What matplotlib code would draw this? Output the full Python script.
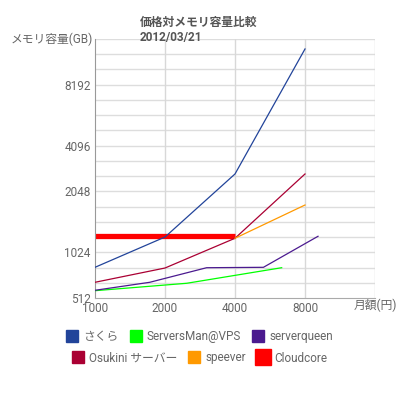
import matplotlib
matplotlib.use('Agg')
import matplotlib.pyplot as plt
from matplotlib.lines import Line2D

plt.rcParams['font.family'] = ['Roboto', 'Noto Sans CJK JP', 'DejaVu Sans']

# price (yen / month) and memory values
sakura_x = [1000, 2000, 4000, 8000]
sakura_y = [763, 1131, 2567, 13035]
serversman_x = [1000, 2480, 6350]
serversman_y = [563, 620, 759]
serverqueen_x = [1000, 1720, 3020, 5300, 9100]
serverqueen_y = [566, 628, 759, 763, 1142]
osukini_x = [1000, 2000, 4000, 8000]
osukini_y = [628, 756, 1113, 2567]
speever_x = [4000, 8000]
speever_y = [1113, 1715]
cloudcore_x = [1000, 4000]
cloudcore_y = [1146, 1146]

names = ['さくら', 'ServersMan@VPS', 'serverqueen', 'Osukini サーバー', 'speever', 'Cloudcore']
colors = ['#22449a', '#00ff00', '#4b1a8f', '#aa0033', '#ff9900', '#ff0000']

xticks = [1000, 2000, 4000, 8000]
ytick_steps = [0, 3, 7, 10, 14]   # gridline index where each label sits
ytick_labels = ['512', '1024', '2048', '4096', '8192']

fig = plt.figure(figsize=(4, 4), dpi=100)
ax = fig.add_axes([0.2375, 0.255, 0.7, 0.6475])
ax.set_xscale('log', base=2)
ax.set_yscale('log', base=2)

series = [(sakura_x, sakura_y), (serversman_x, serversman_y), (serverqueen_x, serverqueen_y),
          (osukini_x, osukini_y), (speever_x, speever_y)]
for (xs, ys), c in zip(series, colors[:5]):
    ax.plot(xs, ys, color=c, lw=0.9, zorder=3)
ax.plot(cloudcore_x, cloudcore_y, color=colors[5], lw=3.8, solid_capstyle='butt', zorder=2)

ymin = 512
ymax = 512 * 2 ** (17 / 3.5)
ax.set_xlim(1000, 16000)
ax.set_ylim(ymin, ymax)

# grid
for k in range(1, 18):
    ax.axhline(512 * 2 ** (k / 3.5), color='#dddddd', lw=1, zorder=1)
for xv in [2000, 4000, 8000, 16000]:
    ax.axvline(xv, color='#d8d8d8', lw=1, zorder=1)

ax.set_xticks(xticks)
ax.set_xticklabels([str(v) for v in xticks])
ax.set_yticks([512 * 2 ** (k / 3.5) for k in ytick_steps])
ax.set_yticklabels(ytick_labels)
ax.minorticks_off()
ax.tick_params(length=0, labelsize=8.5, labelcolor='#666666', pad=3)
ax.tick_params(axis='x', pad=3)

for s in ['top', 'right']:
    ax.spines[s].set_visible(False)
ax.spines['left'].set_color('#999999')
ax.spines['bottom'].set_color('#aaaaaa')

fig.text(0.35, 0.935, '価格対メモリ容量比較', fontsize=8.5, fontweight='bold', color='#555555')
fig.text(0.35, 0.897, '2012/03/21', fontsize=8.5, fontweight='bold', color='#555555')
fig.text(0.2325, 0.893, 'メモリ容量(GB)', fontsize=8.5, color='#666666', ha='right')
fig.text(0.9375, 0.228, '月額(円)', fontsize=8.5, color='#666666', ha='center')

sizes = [9, 9, 9, 9, 9, 11]
handles = [Line2D([], [], ls='none', marker='s', markersize=s, color=c) for c, s in zip(colors, sizes)]
for hs, ns, yy in [(handles[:3], names[:3], 0.158), (handles[3:], names[3:], 0.105)]:
    leg = fig.legend(hs, ns, loc='center', bbox_to_anchor=(0.5, yy), ncol=3, frameon=False,
                     fontsize=8.5, handlelength=0.9, handletextpad=0.5,
                     columnspacing=1.0, borderaxespad=0)
    for t in leg.get_texts():
        t.set_color('#666666')

fig.savefig('out.png', dpi=100)
